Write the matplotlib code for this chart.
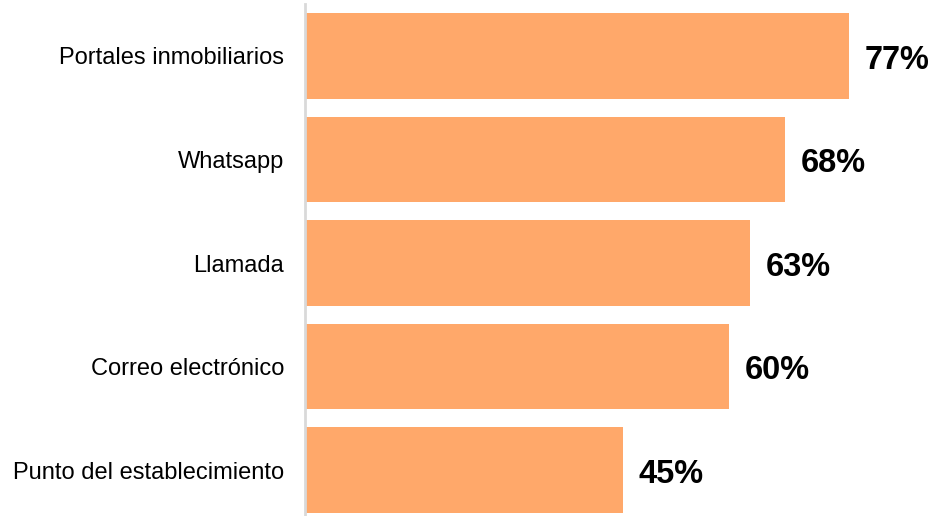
import matplotlib
matplotlib.use("Agg")
import matplotlib.pyplot as plt

plt.rcParams['font.family'] = ['Liberation Sans', 'DejaVu Sans']

categories = ['Portales inmobiliarios', 'Whatsapp', 'Llamada',
              'Correo electrónico', 'Punto del establecimiento']
values = [77, 68, 63, 60, 45]

fig = plt.figure(figsize=(9.29, 5.16), dpi=100)
ax = fig.add_axes([305 / 929, 0, 624 / 929, 512 / 516])

pos = list(range(len(categories)))
ax.barh(pos, values, height=0.83, color='#FFA86A', left=0.2)

for p, v in zip(pos, values):
    ax.text(v + 0.2 + 2.2, p + 0.04, f'{v}%', va='center', ha='left',
            fontsize=23.5, fontweight='bold', color='black')

ax.set_yticks(pos)
ax.set_yticklabels(categories, fontsize=17)
ax.tick_params(axis='y', length=0, pad=15)
ax.set_xticks([])
ax.set_xlim(0, 88.6)
ax.set_ylim(4.444, -0.502)

for s in ['top', 'right', 'bottom']:
    ax.spines[s].set_visible(False)
ax.spines['left'].set_color('#D9D9D9')
ax.spines['left'].set_linewidth(2)

fig.savefig('out.png', dpi=100)
